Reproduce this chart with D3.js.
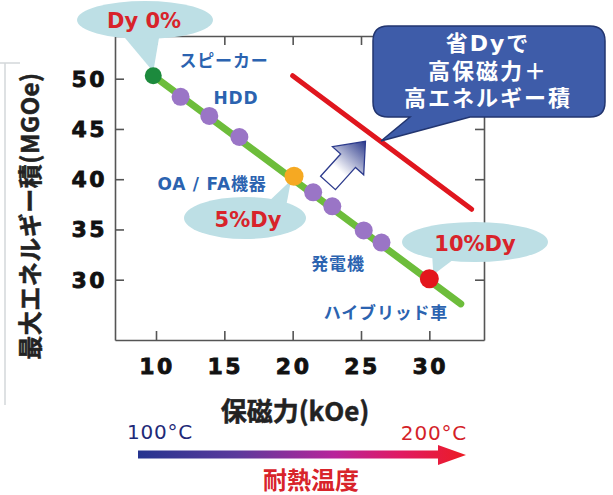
<!DOCTYPE html>
<html><head><meta charset="utf-8">
<script src="https://cdn.jsdelivr.net/npm/d3@7"></script>
<style>
html,body{margin:0;padding:0;background:#fff;}
svg{display:block;}
text{font-family:"DejaVu Sans","Noto Sans CJK JP",sans-serif;}
.jp{font-family:"Noto Sans CJK JP","DejaVu Sans",sans-serif;}
</style></head>
<body>
<script>
// ---- data ----
const xTicks = [10, 15, 20, 25, 30];
const yTicks = [30, 35, 40, 45, 50];
const trendLine = [[9.8, 50.3], [32.3, 27.6]];
const targetLine = [[20.0, 50.3], [33.1, 37.0]];
const productPoints = [[11.8, 48.2], [13.9, 46.3], [16.1, 44.2], [21.5, 38.7], [22.9, 37.3], [25.2, 34.9], [26.5, 33.7]];
const dyLabels = ["Dy 0%", "5%Dy", "10%Dy"];
const dyPoints = [[9.8, 50.3], [20.1, 40.3], [30.0, 30.1]];
const applications = ["スピーカー", "HDD", "OA / FA機器", "発電機", "ハイブリッド車"];
const xTitle = "保磁力(kOe)";
const yTitle = "最大エネルギー積(MGOe)";
const boxLines = ["省Dyで", "高保磁力＋", "高エネルギー積"];
const tempLabels = ["100°C", "200°C"];
const tempTitle = "耐熱温度";

const W = 613, H = 495;
const svg = d3.select("body").append("svg").attr("width", W).attr("height", H);
const defs = svg.append("defs");

const L = 115, R = 484, T = 36, B = 340;
const x = d3.scaleLinear().domain([7, 34]).range([L, R]);
const y = d3.scaleLinear().domain([24, 54.25]).range([B, T]);

// faint frame artifact
svg.append("path").attr("d", "M0,63H20M5,63V405").attr("stroke", "#d4d8da").attr("stroke-width", 1.5).attr("fill", "none");

// axes (inward ticks)
const axisColor = "#555";
const gx = svg.append("g").attr("transform", `translate(0,${B})`)
  .call(d3.axisBottom(x).tickValues(xTicks).tickSizeInner(-9).tickSizeOuter(0).tickFormat(""));
const gxt = svg.append("g").attr("transform", `translate(0,${T})`)
  .call(d3.axisTop(x).tickValues(xTicks).tickSizeInner(-9).tickSizeOuter(0).tickFormat(""));
const gy = svg.append("g").attr("transform", `translate(${L},0)`)
  .call(d3.axisLeft(y).tickValues(yTicks).tickSizeInner(-9).tickSizeOuter(0).tickFormat(""));
const gyr = svg.append("g").attr("transform", `translate(${R},0)`)
  .call(d3.axisRight(y).tickValues(yTicks).tickSizeInner(-9).tickSizeOuter(0).tickFormat(""));
[gx, gxt, gy, gyr].forEach(g => {
  g.selectAll("path,line").attr("stroke", axisColor).attr("stroke-width", 1.6);
});
// tick labels
svg.append("g").selectAll("text").data(xTicks).join("text")
  .attr("x", d => x(d) + 1).attr("y", 374).attr("text-anchor", "middle")
  .attr("font-size", 22).attr("font-weight", "bold").attr("letter-spacing", 2.5).attr("fill", "#111")
  .attr("stroke", "#111").attr("stroke-width", 0.8)
  .text(d => d);
svg.append("g").selectAll("text").data(yTicks).join("text")
  .attr("x", 107).attr("y", d => y(d) + 8).attr("text-anchor", "end")
  .attr("font-size", 22).attr("font-weight", "bold").attr("letter-spacing", 2.5).attr("fill", "#111")
  .attr("stroke", "#111").attr("stroke-width", 0.8)
  .text(d => d);

// axis titles
svg.append("text").attr("class", "jp").attr("transform", "translate(39,216) rotate(-90)")
  .attr("text-anchor", "middle").attr("font-size", 24).attr("font-weight", "bold").attr("fill", "#222")
  .attr("stroke", "#222").attr("stroke-width", 0.5).attr("letter-spacing", 0.5)
  .text(yTitle);
svg.append("text").attr("class", "jp").attr("x", 295).attr("y", 421)
  .attr("text-anchor", "middle").attr("font-size", 26).attr("font-weight", "bold").attr("fill", "#222")
  .attr("stroke", "#222").attr("stroke-width", 0.5)
  .text(xTitle);

// callout ellipses
const calloutFill = "#bddfe5";
function callout(cx, cy, rx, ry, tail, label, tx, ty) {
  const g = svg.append("g");
  g.append("path").attr("d", `M${tail[0][0]},${tail[0][1]}L${tail[1][0]},${tail[1][1]}L${tail[2][0]},${tail[2][1]}Z`).attr("fill", calloutFill);
  g.append("ellipse").attr("cx", cx).attr("cy", cy).attr("rx", rx).attr("ry", ry).attr("fill", calloutFill);
  g.append("text").attr("x", tx).attr("y", ty).attr("text-anchor", "middle")
    .attr("font-size", 21).attr("font-weight", "bold").attr("fill", "#d8232a").text(label);
}
const p0 = dyPoints.map(d => [x(d[0]), y(d[1])]);
callout(145, 20, 68, 19, [[120, 32], [160, 32], [p0[0][0], p0[0][1] - 4]], dyLabels[0], 144, 28);
callout(245, 218, 61, 21, [[265, 205], [285, 212], [p0[1][0] - 3, p0[1][1] + 4]], dyLabels[1], 248, 227);
callout(475, 242, 73, 20, [[432, 252], [458, 256], [p0[2][0] + 4, p0[2][1] - 4]], dyLabels[2], 475, 251);

// blur filter for fuzzy dots
const f = defs.append("filter").attr("id", "soft").attr("x", "-30%").attr("y", "-30%").attr("width", "160%").attr("height", "160%");
f.append("feGaussianBlur").attr("stdDeviation", 0.7);

const line = d3.line().x(d => x(d[0])).y(d => y(d[1]));
svg.append("path").datum(trendLine).attr("d", line).attr("stroke", "#6dbd3b").attr("stroke-width", 7)
  .attr("stroke-linecap", "round").attr("fill", "none");
svg.append("path").datum(targetLine).attr("d", line).attr("stroke", "#e0161e").attr("stroke-width", 5)
  .attr("stroke-linecap", "round").attr("fill", "none");

svg.append("g").selectAll("circle").data(productPoints).join("circle")
  .attr("cx", d => x(d[0])).attr("cy", d => y(d[1])).attr("r", 9)
  .attr("fill", "#9a74c6").attr("filter", "url(#soft)");
const dyColors = ["#1f8a3c", "#f6a923", "#e3161e"];
svg.append("g").selectAll("circle").data(dyPoints).join("circle")
  .attr("cx", d => x(d[0])).attr("cy", d => y(d[1])).attr("r", (d, i) => i === 0 ? 8.5 : 9.5)
  .attr("fill", (d, i) => dyColors[i]).attr("filter", "url(#soft)");

// application labels
const appPos = [[224, 67], [236, 104], [212, 190], [338, 270], [386, 319]];
svg.append("g").selectAll("text").data(applications).join("text")
  .attr("x", (d, i) => appPos[i][0]).attr("y", (d, i) => appPos[i][1]).attr("text-anchor", "middle")
  .attr("font-size", 17).attr("font-weight", "bold").attr("letter-spacing", 0.8).attr("fill", "#2b63b0")
  .text(d => d);

// hollow gradient arrow
const ag = defs.append("linearGradient").attr("id", "arrowGrad").attr("x1", "0").attr("y1", "0").attr("x2", "1").attr("y2", "0");
ag.append("stop").attr("offset", "0").attr("stop-color", "#ffffff");
ag.append("stop").attr("offset", "0.3").attr("stop-color", "#ffffff");
ag.append("stop").attr("offset", "1").attr("stop-color", "#2c3a8c");
const arrowG = svg.append("g").attr("transform", "translate(328,183) rotate(-48)");
arrowG.append("path")
  .attr("d", "M0,-10L30,-10L30,-21L56,0L30,21L30,10L0,10Z")
  .attr("fill", "url(#arrowGrad)").attr("stroke", "#2c3a8c").attr("stroke-width", 1.3).attr("stroke-linejoin", "miter");

// dark blue callout box
const box = svg.append("g");
box.append("path")
  .attr("d", "M388,26H590Q605,26 605,41V102Q605,117 590,117H470L381,141L410,117H388Q373,117 373,102V41Q373,26 388,26Z")
  .attr("fill", "#3e5ca9").attr("stroke", "#22356f").attr("stroke-width", 1.5);
box.selectAll("text").data(boxLines).join("text")
  .attr("x", 488).attr("y", (d, i) => 51 + i * 27.5).attr("text-anchor", "middle")
  .attr("font-size", 22).attr("font-weight", "bold").attr("letter-spacing", 2).attr("fill", "#fff")
  .text(d => d);

// temperature gradient arrow
const tg = defs.append("linearGradient").attr("id", "tempGrad").attr("x1", "0").attr("y1", "0").attr("x2", "1").attr("y2", "0");
[["0", "#25348f"], ["0.3", "#5b3a9c"], ["0.6", "#b8249a"], ["0.8", "#e01a62"], ["1", "#ec1c24"]].forEach(s =>
  tg.append("stop").attr("offset", s[0]).attr("stop-color", s[1]));
svg.append("path").attr("d", "M138,450.5H438V445L466,455L438,465V458.5H138Z").attr("fill", "url(#tempGrad)");
svg.append("text").attr("x", 127).attr("y", 439).attr("font-size", 20).attr("letter-spacing", 0.8).attr("fill", "#1e2a78").text(tempLabels[0]);
svg.append("text").attr("x", 467).attr("y", 440).attr("text-anchor", "end").attr("font-size", 20).attr("letter-spacing", 0.8).attr("fill", "#d41f2a").text(tempLabels[1]);
svg.append("text").attr("class", "jp").attr("x", 311).attr("y", 489).attr("text-anchor", "middle")
  .attr("font-size", 24).attr("font-weight", "bold").attr("fill", "#d8232a").text(tempTitle);
</script>
</body></html>
